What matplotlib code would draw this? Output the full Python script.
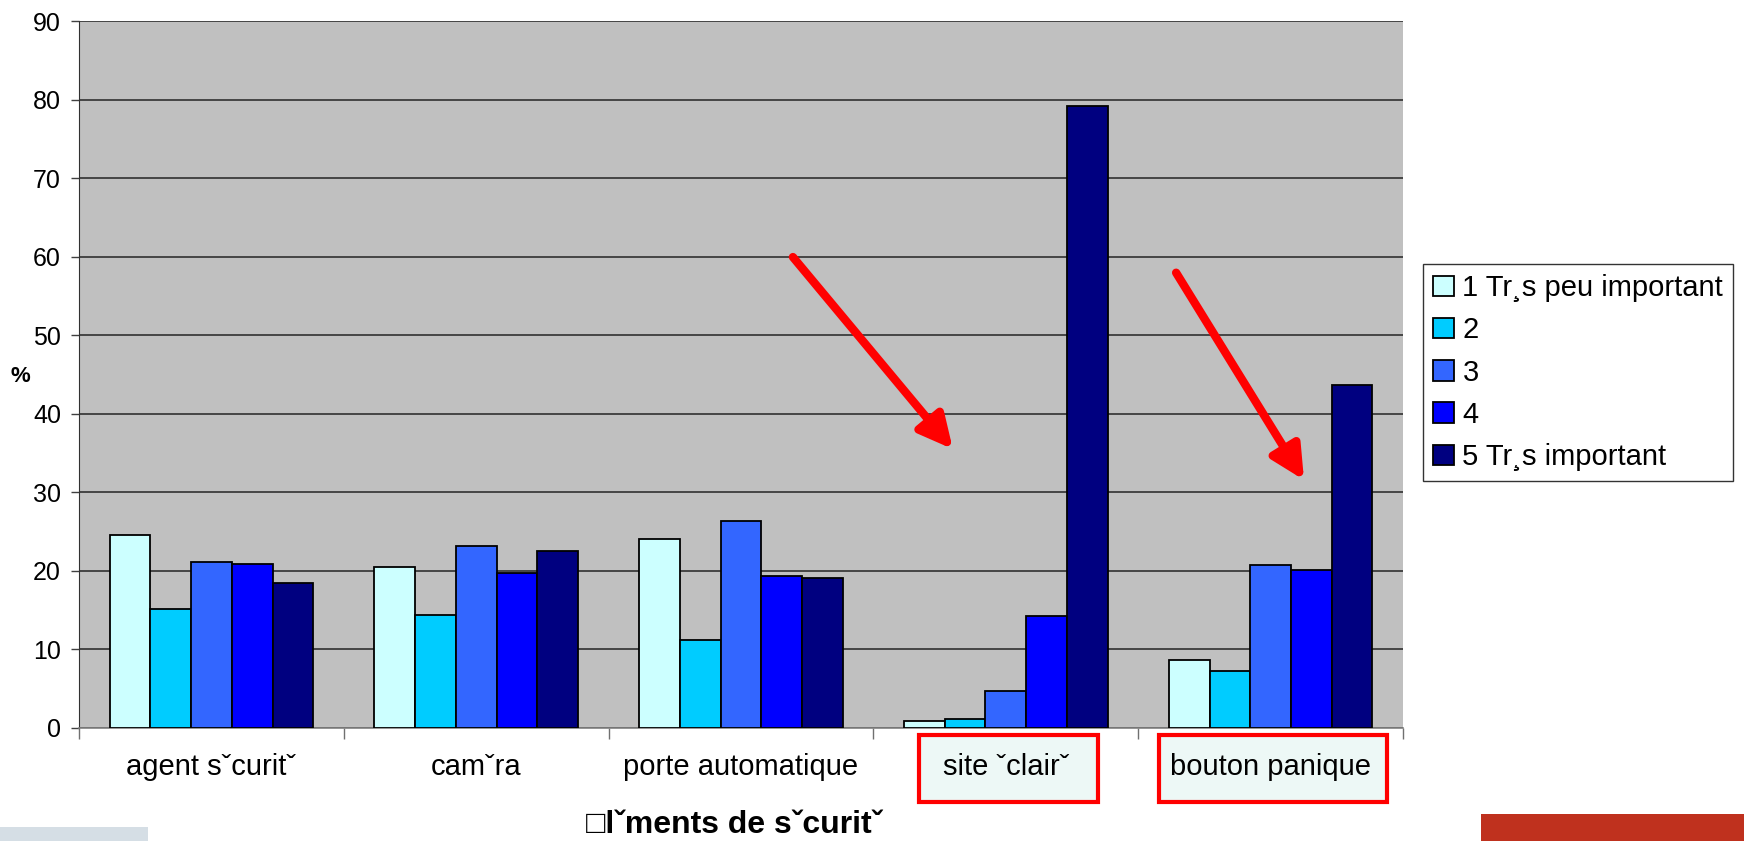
import matplotlib
matplotlib.use('Agg')
import matplotlib.pyplot as plt
import matplotlib.transforms as mtransforms
from matplotlib.patches import Rectangle
import numpy as np

plt.rcParams['font.family'] = ['Liberation Sans', 'DejaVu Sans']

categories = ['agent s\u02c7curit\u02c7', 'cam\u02c7ra', 'porte automatique', 'site \u02c7clair\u02c7', 'bouton panique']
series_labels = ['1 Tr\u00b8s peu important', '2', '3', '4', '5 Tr\u00b8s important']
colors = ['#CCFFFF', '#00CCFF', '#3366FF', '#0000FF', '#000080']

# % per category, one list per importance level
level1 = [24.6, 20.5, 24.1, 0.9, 8.6]
level2 = [15.2, 14.4, 11.2, 1.2, 7.2]
level3 = [21.1, 23.2, 26.3, 4.7, 20.7]
level4 = [20.9, 19.7, 19.4, 14.2, 20.1]
level5 = [18.5, 22.5, 19.1, 79.2, 43.7]
levels = [level1, level2, level3, level4, level5]

fig = plt.figure(figsize=(17.44, 8.41), dpi=100)
ax = fig.add_axes([0.0453, 0.1344, 0.7592, 0.8406])
ax.set_facecolor('#C0C0C0')

x = np.arange(len(categories))
w = 1.0 / 6.5
for i, (vals, c, lab) in enumerate(zip(levels, colors, series_labels)):
    ax.bar(x + (i - 2) * w, vals, w, color=c, edgecolor='black', linewidth=1.3,
           label=lab, zorder=3)

ax.set_xlim(-0.5, 4.5)
ax.set_ylim(0, 90)
ax.set_yticks(range(0, 91, 10))
ax.yaxis.grid(True, color='#303030', linewidth=1.2, zorder=1)
ax.tick_params(axis='y', labelsize=18, length=6, width=1, color='#404040', pad=7)

ax.set_xticks(x)
ax.set_xticklabels(categories, fontsize=21)
ax.tick_params(axis='x', which='major', length=0, pad=18)
ax.set_xticks(np.arange(-0.5, 5, 1), minor=True)
ax.tick_params(axis='x', which='minor', length=8, width=1, color='#707070')

for s in ['top', 'right']:
    ax.spines[s].set_visible(False)
ax.spines['left'].set_color('#303030')
ax.spines['bottom'].set_color('#808080')
ax.spines['bottom'].set_linewidth(1.2)

# red boxes around the two highlighted categories
trans = mtransforms.blended_transform_factory(ax.transData, ax.transAxes)
for x0, x1 in [(2.672, 3.348), (3.579, 4.440)]:
    ax.add_patch(Rectangle((x0, -0.1047), x1 - x0, 0.0948, transform=trans,
                           facecolor='#EDF8F6', edgecolor='#FF0000', linewidth=3,
                           clip_on=False, zorder=0))

# red arrows
for (xs, ys), (xe, ye) in [((2.196, 59.95), (2.80, 35.5)), ((3.643, 57.96), (4.126, 31.57))]:
    ax.annotate('', xy=(xe, ye), xytext=(xs, ys),
                arrowprops=dict(arrowstyle='-|>,head_length=2.0,head_width=1.0',
                                color='#FF0000', lw=6, shrinkA=0, shrinkB=0),
                zorder=5)

leg = fig.legend(loc='center left', bbox_to_anchor=(0.816, 0.557), fontsize=21,
                 frameon=True, fancybox=False, edgecolor='black',
                 handlelength=0.7, handleheight=0.7, handletextpad=0.3,
                 labelspacing=0.49, borderpad=0.35, borderaxespad=0)
leg.get_frame().set_linewidth(1.0)

fig.text(0.0115, 1 - 377 / 841, '%', ha='center', va='center', fontsize=16, fontweight='bold')
fig.text(734 / 1744, 1 - 833 / 841, '\u25a1l\u02c7ments de s\u02c7curit\u02c7', ha='center',
         va='baseline', fontsize=23, fontweight='bold')

# decorative slide strips at the bottom
fig.patches.append(Rectangle((0, 0), 148 / 1744, 14 / 841, transform=fig.transFigure,
                             facecolor='#D5DEE5', edgecolor='none'))
fig.patches.append(Rectangle((1481 / 1744, 0), 263 / 1744, 27 / 841, transform=fig.transFigure,
                             facecolor='#BF311E', edgecolor='none'))

fig.savefig('out.png', dpi=100)
